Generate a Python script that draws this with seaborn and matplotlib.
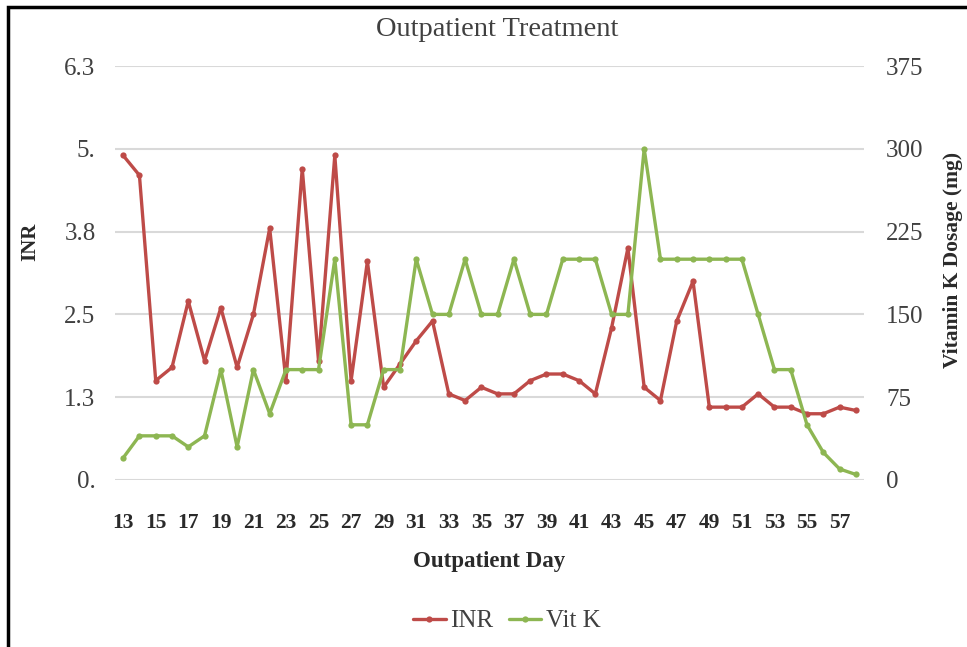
import matplotlib
matplotlib.use("Agg")
import matplotlib.pyplot as plt
import seaborn as sns
import pandas as pd
from matplotlib.lines import Line2D
from matplotlib.patches import Rectangle

days = [13, 14, 15, 16, 17, 18, 19, 20, 21, 22, 23, 24, 25, 26, 27, 28, 29, 30,
        31, 32, 33, 34, 35, 36, 37, 38, 39, 40, 41, 42, 43, 44, 45, 46, 47, 48,
        49, 50, 51, 52, 53, 54, 55, 56, 57, 58]
inr = [4.9, 4.6, 1.5, 1.7, 2.7, 1.8, 2.6, 1.7, 2.5, 3.8, 1.5, 4.7, 1.8, 4.9,
       1.5, 3.3, 1.4, 1.75, 2.1, 2.4, 1.3, 1.2, 1.4, 1.3, 1.3, 1.5, 1.6, 1.6,
       1.5, 1.3, 2.3, 3.5, 1.4, 1.2, 2.4, 3.0, 1.1, 1.1, 1.1, 1.3, 1.1, 1.1,
       1.0, 1.0, 1.1, 1.05]
vitk = [20, 40, 40, 40, 30, 40, 100, 30, 100, 60, 100, 100, 100, 200, 50, 50,
        100, 100, 200, 150, 150, 200, 150, 150, 200, 150, 150, 200, 200, 200,
        150, 150, 300, 200, 200, 200, 200, 200, 200, 150, 100, 100, 50, 25, 10, 5]

inr_ticks = [0, 1.25, 2.5, 3.75, 5, 6.25]
inr_tick_labels = ["0.", "1.3", "2.5", "3.8", "5.", "6.3"]
vit_ticks = [0, 75, 150, 225, 300, 375]
vit_tick_labels = ["0", "75", "150", "225", "300", "375"]
x_ticks = [13, 15, 17, 19, 21, 23, 25, 27, 29, 31, 33, 35, 37, 39, 41, 43, 45,
           47, 49, 51, 53, 55, 57]

title = "Outpatient Treatment"
xlabel = "Outpatient Day"
ylabel_left = "INR"
ylabel_right = "Vitamin K Dosage (mg)"
series_names = ["INR", "Vit K"]

RED = "#BE4B48"
GREEN = "#8DB652"
GRID = "#D9D9D9"
TXT = "#404040"

sns.set_theme(style="white")
plt.rcParams["font.family"] = ["Liberation Serif", "DejaVu Serif"]

df = pd.DataFrame({"day": days, "INR": inr, "VitK": vitk})

W, H = 967, 647
fig = plt.figure(figsize=(W / 100, H / 100), dpi=100)
ax = fig.add_axes([115 / W, 1 - 480 / H, (864 - 115) / W, (480 - 66) / H])
ax2 = ax.twinx()

for a in (ax, ax2):
    for s in a.spines.values():
        s.set_visible(False)

# grid
for t in inr_ticks:
    ax.axhline(t, color=GRID, lw=1.5, zorder=0)

sns.lineplot(data=df, x="day", y="INR", ax=ax, color=RED, lw=2.4,
             marker="o", markersize=4.5, markeredgewidth=0, zorder=3)
sns.lineplot(data=df, x="day", y="VitK", ax=ax2, color=GREEN, lw=2.4,
             marker="o", markersize=4.5, markeredgewidth=0, zorder=3)

ax.set_xlim(12.5, 58.5)
ax.set_ylim(0, 6.25)
ax2.set_ylim(0, 375)

ax.set_xticks(x_ticks)
ax.set_xticklabels([str(v) for v in x_ticks], fontsize=15.5, fontweight="bold",
                   color="#2a2a2a")
ax.set_yticks(inr_ticks)
ax.set_yticklabels(inr_tick_labels, fontsize=18, color=TXT)
ax2.set_yticks(vit_ticks)
ax2.set_yticklabels(vit_tick_labels, fontsize=18, color=TXT)
ax.tick_params(axis="x", length=0, pad=24)
ax.tick_params(axis="y", length=0, pad=14)
ax2.tick_params(axis="y", length=0, pad=16)

ax.set_xlabel("")
ax.set_ylabel("")
ax2.set_ylabel("")

fig.text(497 / W, 1 - 30 / H, title, ha="center", va="center", fontsize=20.5,
         color=TXT)
fig.text(30 / W, 1 - 242 / H, ylabel_left, ha="center", va="center",
         rotation=90, fontsize=15, fontweight="bold", color="#2a2a2a")
fig.text(953 / W, 1 - 260 / H, ylabel_right, ha="center", va="center",
         rotation=90, fontsize=15.5, fontweight="bold", color="#2a2a2a")
fig.text(489 / W, 1 - 562 / H, xlabel, ha="center", va="center", fontsize=16.5,
         fontweight="bold", color="#2a2a2a")

handles = [Line2D([0], [0], color=RED, lw=2.4, marker="o", markersize=4.5,
                  markeredgewidth=0),
           Line2D([0], [0], color=GREEN, lw=2.4, marker="o", markersize=4.5,
                  markeredgewidth=0)]
leg = fig.legend(handles, series_names, loc="center",
                 bbox_to_anchor=(507 / W, 1 - 621 / H), ncol=2, frameon=False,
                 fontsize=18, handlelength=1.3, handletextpad=0.2,
                 columnspacing=0.6)
for t in leg.get_texts():
    t.set_color(TXT)

fig.patches.append(Rectangle((8 / W, -0.05), 1.1, 1 - 7 / H + 0.05,
                             transform=fig.transFigure, fill=False,
                             edgecolor="black", lw=2.5, zorder=10))

fig.savefig("out.png", dpi=100, facecolor="white")
